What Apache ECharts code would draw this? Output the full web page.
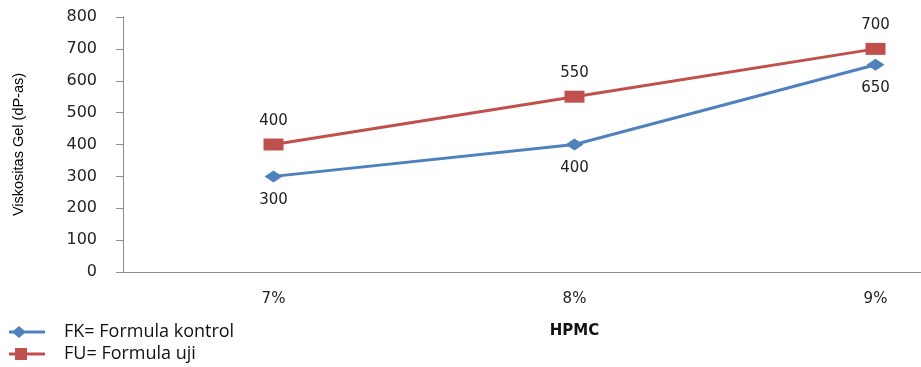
<!DOCTYPE html>
<html>
<head>
<meta charset="utf-8">
<title>Viskositas Gel</title>
<script src="https://cdn.jsdelivr.net/npm/echarts@6/dist/echarts.min.js"></script>
</head>
<body style="margin:0;overflow:hidden">
<!-- the original chart is cut off on the right, so the canvas is wider than the window -->
<div id="main" style="width:1026px;height:367px;"></div>
<script type="text/javascript">
    // data
    var categories = ['7%', '8%', '9%'];
    var fkValues = [300, 400, 650];
    var fuValues = [400, 550, 700];
    var seriesNames = ['FK= Formula kontrol', 'FU= Formula uji'];

    var myChart = echarts.init(document.getElementById('main'));

    var labelFont = {
        fontFamily: 'DejaVu Sans',
        fontSize: 15,
        color: '#222'
    };

    var legendText = { fontFamily: 'Open Sans', fontSize: 18, color: '#111', padding: [0, 0, 0, 14] };

    // legend icons: marker sits at the left end of the line, like the original
    var diamondIcon = 'path://M0,4.5L36,4.5L36,7.5L0,7.5Z M3,6L10,0L17,6L10,12Z';
    var squareIcon = 'path://M0,4.5L36,4.5L36,7.5L0,7.5Z M6,0L18,0L18,12L6,12Z';

    var option = {
        animation: false,
        grid: { left: 123, right: 0, top: 17, bottom: 95 },
        legend: [{
            left: 4,
            top: 318,
            itemWidth: 36,
            itemHeight: 12,
            textStyle: legendText,
            data: [{ name: seriesNames[0], icon: diamondIcon }]
        }, {
            left: 4,
            top: 340,
            itemWidth: 36,
            itemHeight: 12,
            textStyle: legendText,
            data: [{ name: seriesNames[1], icon: squareIcon }]
        }],
        xAxis: {
            type: 'category',
            data: categories,
            name: 'HPMC',
            nameLocation: 'middle',
            nameGap: 52,
            nameTextStyle: { fontFamily: 'DejaVu Sans', fontWeight: 'bold', fontSize: 15, color: '#111' },
            axisLine: { lineStyle: { color: '#8c8c8c' } },
            axisTick: { length: 6, lineStyle: { color: '#8c8c8c' } },
            axisLabel: Object.assign({ margin: 20 }, labelFont)
        },
        yAxis: {
            type: 'value',
            min: 0,
            max: 800,
            interval: 100,
            name: 'Viskositas Gel (dP-as)',
            nameLocation: 'middle',
            nameGap: 97,
            nameTextStyle: { fontFamily: 'Liberation Sans', fontSize: 14.5, color: '#000' },
            axisLine: { show: true, lineStyle: { color: '#8c8c8c' } },
            axisTick: { show: true, length: 7, lineStyle: { color: '#8c8c8c' } },
            splitLine: { show: false },
            axisLabel: Object.assign({}, labelFont, { margin: 26, fontSize: 16 })
        },
        series: [{
            name: seriesNames[0],
            type: 'line',
            data: fkValues,
            symbol: 'diamond',
            symbolSize: [18, 12],
            color: '#4f81bd',
            lineStyle: { width: 3, color: '#4f81bd' },
            label: Object.assign({ show: true, position: 'bottom', distance: 10 }, labelFont)
        }, {
            name: seriesNames[1],
            type: 'line',
            data: fuValues,
            symbol: 'rect',
            symbolSize: [20, 12],
            color: '#c0504d',
            lineStyle: { width: 3, color: '#c0504d' },
            label: Object.assign({ show: true, position: 'top', distance: 10 }, labelFont)
        }]
    };

    myChart.setOption(option);
</script>
</body>
</html>
